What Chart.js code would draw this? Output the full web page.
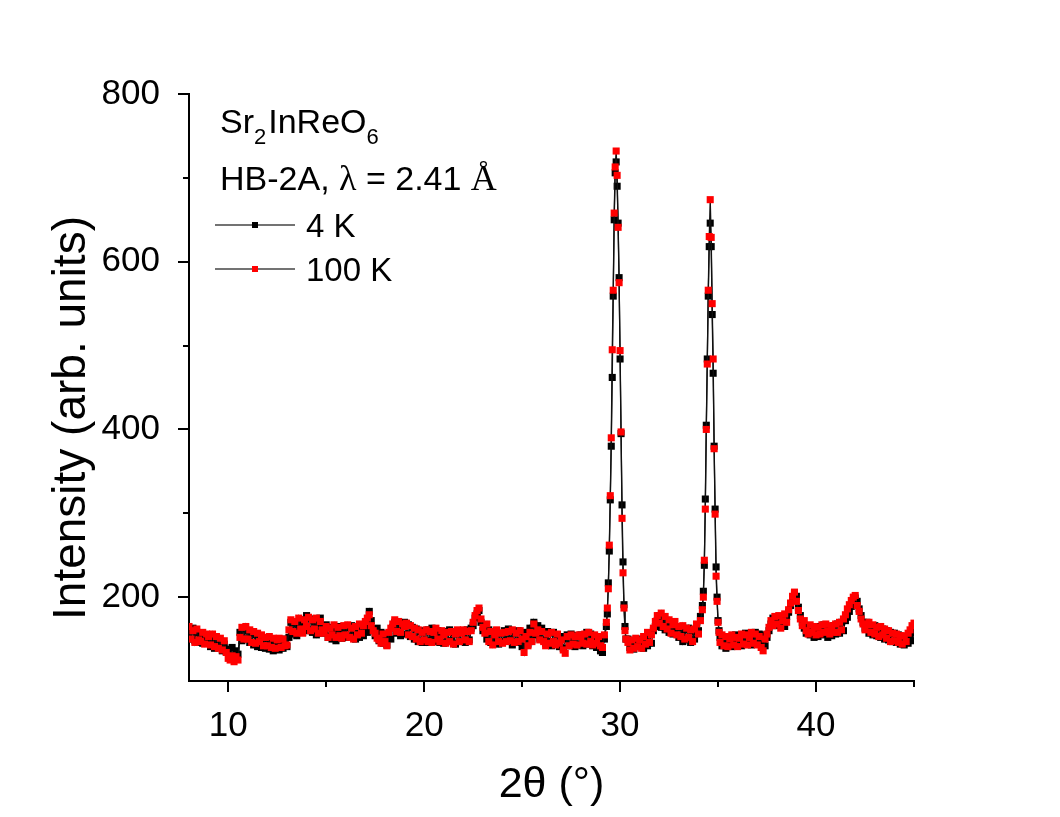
<!DOCTYPE html>
<html>
<head>
<meta charset="utf-8">
<script src="https://cdn.jsdelivr.net/npm/chart.js@4.4.0/dist/chart.umd.min.js"></script>
<style>
html,body{margin:0;padding:0;background:#fff;}
canvas{display:block;}
</style>
</head>
<body>
<canvas id="c" width="1060" height="817"></canvas>
<script>
// ---- scan segments (2theta start, step) ----
const scanStart = [8.0, 29.35, 30.4, 34.25, 35.1];
const scanStep  = [0.1, 0.05, 0.1, 0.05, 0.1];

// ---- 4 K intensities ----
const k4A = [
160,150,163,148,158,146,157,145,155,148,
152,141,150,139,149,142,146,136,144,135,
138,130,140,128,136,132,158,148,163,150,
160,146,157,143,155,141,153,140,150,139,
151,138,149,136,147,140,137,148,139,150,
141,152,170,156,169,154,166,173,158,170,
178,160,174,158,170,155,168,175,157,165,
167,152,164,150,162,148,160,165,151,163,
152,164,153,166,155,150,163,152,165,154,
167,158,183,172,160,154,163,148,158,145,
156,143,153,150,164,170,157,168,154,166,
170,156,167,153,164,150,162,147,159,146,
160,146,161,148,163,150,147,160,146,158,
145,159,147,161,148,158,144,156,160,147,
158,146,161,149,163,166,175,180,184,170,
160,166,150,161,146,159,149,160,144,157,
147,160,149,162,150,143,158,146,160,148,
141,153,158,144,163,149,170,155,166,151,
163,149,145,159,147,142,158,145,155,141,
153,139,150,155,142,156,146,141,154,143,
155,142,153,158,144,156,142,153,140,145,
136,134,150,165];
const k4B = [180,217,255,316,380,462,559,650,706,719,690,646,581,484,395,310,242,191,165,150];
const k4C = [
150,140,144,138,147,141,
143,150,139,153,142,156,145,160,165,172,
178,164,175,161,172,158,168,156,161,165,
152,164,147,161,149,163,146,159,150,163,
160,177,190];
const k4D = [207,238,317,405,484,559,618,646,618,537,467,380,305,236,200,172,160];
const k4E = [
152,142,150,139,148,153,141,150,155,
144,154,142,152,157,145,155,143,152,158,
146,156,144,155,142,152,160,168,175,166,
176,167,169,174,165,177,182,190,198,204,
201,188,178,170,163,157,166,155,164,152,
162,153,165,155,167,157,152,164,154,166,
156,168,157,170,160,172,176,183,189,193,
199,195,186,178,170,163,170,157,166,155,
166,154,163,152,162,150,160,149,158,147,
157,146,155,144,153,143,152,145,154,148,
158];

// ---- 100 K intensities ----
const k100A = [
165,150,160,146,162,149,147,158,144,156,
153,143,156,141,153,139,151,137,148,134,
127,125,130,123,129,125,152,164,150,165,
150,161,146,159,145,157,147,155,142,152,
142,153,140,151,139,149,151,140,150,142,
143,161,173,159,171,157,175,162,157,173,
165,176,160,173,162,175,157,171,161,157,
165,152,163,155,167,152,164,154,151,166,
155,167,152,163,150,165,155,168,157,166,
171,175,179,166,160,157,151,149,145,156,
147,142,158,163,168,173,159,171,158,168,
165,169,155,166,153,163,150,161,147,158,
149,161,147,159,146,158,163,150,147,160,
155,145,158,147,159,144,156,161,147,157,
161,149,159,147,160,170,178,184,187,174,
164,157,168,147,159,143,155,161,147,157,
145,158,147,159,148,161,146,157,147,160,
150,134,153,142,158,147,168,157,161,149,
159,147,142,156,145,158,147,143,156,145,
149,137,133,153,142,155,144,153,143,155,
153,145,156,144,158,147,143,155,145,153,
142,140,155,170];
const k100B = [187,210,262,321,390,495,566,658,713,732,703,641,575,494,397,294,229,187,160,150];
const k100C = [
146,137,149,139,151,141,
149,139,153,144,158,146,155,163,171,178,
169,181,165,177,162,173,157,167,171,155,
165,153,166,150,163,152,161,147,162,168,
156,172,185];
const k100D = [200,244,305,400,478,566,630,674,629,550,484,377,299,225,195,170,158];
const k100E = [
146,155,142,153,141,150,155,143,152,
141,151,156,144,155,143,152,158,145,156,
143,153,140,136,150,156,164,172,166,177,
168,178,163,172,180,170,185,193,201,206,
195,184,174,166,172,160,156,167,158,165,
155,164,156,167,158,168,160,156,166,158,
168,158,170,161,174,179,186,191,196,200,
202,190,183,174,168,161,167,170,158,167,
156,164,153,165,155,162,151,160,147,157,
148,156,146,154,144,154,147,157,161,166,
169];

// ---- axes / labels ----
const seriesLabels = ['4 K', '100 K'];
const xMajorTicks = [10, 20, 30, 40];
const xMinorTicks = [15, 25, 35, 45];
const yMajorTicks = [200, 400, 600, 800];
const yMinorTicks = [300, 500, 700];
const xTitle = '2\u03B8 (\u00B0)';
const yTitle = 'Intensity (arb. units)';

const SANS = '"Liberation Sans", Arial, Helvetica, sans-serif';
const SERIF = '"Liberation Serif", "Times New Roman", serif';

function toPoints(segs) {
  const pts = [];
  segs.forEach((vals, s) => vals.forEach((v, i) => {
    pts.push({ x: +(scanStart[s] + i * scanStep[s]).toFixed(2), y: v });
  }));
  return pts;
}

const decor = {
  id: 'decor',
  afterDraw(chart) {
    const { ctx, chartArea: a } = chart;
    const xs = chart.scales.x, ys = chart.scales.y;
    ctx.save();
    // tick marks (outward)
    ctx.strokeStyle = '#000';
    ctx.lineWidth = 2;
    ctx.beginPath();
    xMajorTicks.forEach(v => { const p = Math.round(xs.getPixelForValue(v)); ctx.moveTo(p, a.bottom); ctx.lineTo(p, a.bottom + 11); });
    xMinorTicks.forEach(v => { const p = Math.round(xs.getPixelForValue(v)); ctx.moveTo(p, a.bottom); ctx.lineTo(p, a.bottom + 6); });
    yMajorTicks.forEach(v => { const p = Math.round(ys.getPixelForValue(v)); ctx.moveTo(a.left, p); ctx.lineTo(a.left - 11, p); });
    yMinorTicks.forEach(v => { const p = Math.round(ys.getPixelForValue(v)); ctx.moveTo(a.left, p); ctx.lineTo(a.left - 6, p); });
    ctx.stroke();

    // y axis title
    ctx.save();
    ctx.translate(a.left - 117, a.top + 324);
    ctx.rotate(-Math.PI / 2);
    ctx.font = '46px ' + SANS;
    ctx.fillStyle = '#000';
    ctx.textAlign = 'center';
    ctx.textBaseline = 'middle';
    ctx.fillText(yTitle, 0, 0);
    ctx.restore();

    // annotation
    ctx.fillStyle = '#000';
    ctx.textAlign = 'left';
    ctx.textBaseline = 'alphabetic';
    const runs = (list, x, y) => {
      list.forEach(r => {
        ctx.font = r.f;
        ctx.fillText(r.t, x, y + (r.dy || 0));
        x += ctx.measureText(r.t).width + (r.gap || 0);
      });
    };
    const L = a.left + 31, T = a.top;
    runs([
      { t: 'Sr', f: '34px ' + SANS },
      { t: '2', f: '22px ' + SANS, dy: 11, gap: 2 },
      { t: 'InReO', f: '34px ' + SANS },
      { t: '6', f: '22px ' + SANS, dy: 11 }
    ], L, T + 39);
    runs([
      { t: 'HB-2A, ', f: '34px ' + SANS },
      { t: '\u03BB', f: '36px ' + SERIF },
      { t: ' = 2.41 ', f: '34px ' + SANS },
      { t: '\u00C5', f: '36px ' + SERIF }
    ], L, T + 96);

    // legend
    const ds = chart.data.datasets;
    [0, 1].forEach((di, k) => {
      const d = ds[di];
      const cy = T + 131 + k * 44;
      ctx.strokeStyle = '#444';
      ctx.lineWidth = 1.5;
      ctx.beginPath();
      ctx.moveTo(L - 5, cy); ctx.lineTo(L + 75, cy);
      ctx.stroke();
      ctx.fillStyle = d.pointBackgroundColor;
      ctx.fillRect(L + 32, cy - 3, 6, 6);
      ctx.fillStyle = '#000';
      ctx.font = '33px ' + SANS;
      ctx.fillText(d.label, L + 86, cy + 12);
    });
    ctx.restore();
  }
};

new Chart(document.getElementById('c'), {
  type: 'line',
  data: {
    datasets: [
      {
        label: seriesLabels[0],
        data: toPoints([k4A, k4B, k4C, k4D, k4E]),
        borderColor: '#111',
        borderWidth: 1.3,
        pointStyle: 'rect',
        pointRadius: 5,
        pointBorderWidth: 0,
        pointBackgroundColor: '#000000',
        tension: 0,
        order: 2
      },
      {
        label: seriesLabels[1],
        data: toPoints([k100A, k100B, k100C, k100D, k100E]),
        borderColor: '#111',
        borderWidth: 1.3,
        pointStyle: 'rect',
        pointRadius: 5,
        pointBorderWidth: 0,
        pointBackgroundColor: '#ff0000',
        tension: 0,
        order: 1
      }
    ]
  },
  options: {
    responsive: false,
    animation: false,
    devicePixelRatio: 1,
    layout: { padding: { left: 0, top: 94, right: 146, bottom: 0 } },
    plugins: { legend: { display: false }, tooltip: { enabled: false } },
    scales: {
      x: {
        type: 'linear',
        min: 8, max: 45,
        afterFit: s => { s.height = 136; },
        afterBuildTicks: s => { s.ticks = xMajorTicks.map(v => ({ value: v })); },
        grid: { display: false },
        border: { display: true, color: '#000', width: 2 },
        ticks: { color: '#000', padding: 16, maxRotation: 0, autoSkip: false, font: { family: SANS, size: 35 } },
        title: { display: true, text: xTitle, color: '#000', font: { family: SANS, size: 43 }, padding: { top: 0, bottom: 6 } }
      },
      y: {
        min: 100, max: 800,
        afterFit: s => { s.width = 189; },
        afterBuildTicks: s => { s.ticks = yMajorTicks.map(v => ({ value: v })); },
        grid: { display: false },
        border: { display: true, color: '#000', width: 2 },
        ticks: { color: '#000', padding: 21, autoSkip: false, font: { family: SANS, size: 35 } }
      }
    }
  },
  plugins: [decor]
});
</script>
</body>
</html>
